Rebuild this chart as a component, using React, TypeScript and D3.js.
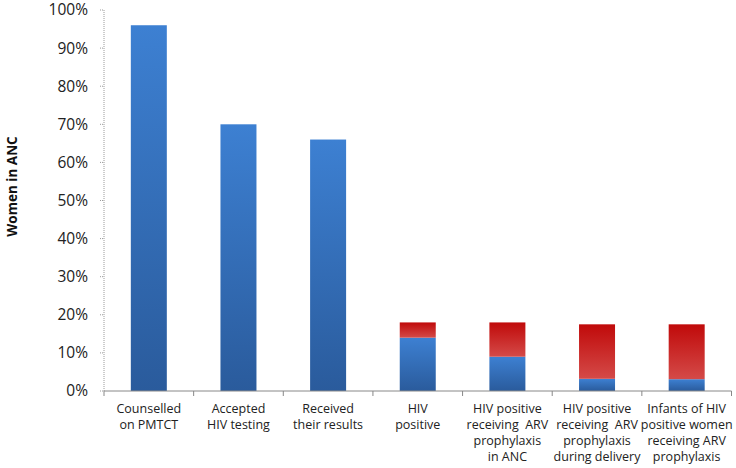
import React from "react";
import * as d3 from "d3";

const categories: string[][] = [
  ["Counselled", "on PMTCT"],
  ["Accepted", "HIV testing"],
  ["Received", "their results"],
  ["HIV", "positive"],
  ["HIV positive", "receiving  ARV", "prophylaxis", "in ANC"],
  ["HIV positive", "receiving  ARV", "prophylaxis", "during delivery"],
  ["Infants of HIV", "positive women", "receiving ARV", "prophylaxis"],
];
const blueValues = [96, 70, 66, 14, 9, 3.2, 3.1];
const redValues = [0, 0, 0, 4, 9, 14.3, 14.4];
const yTicks = [0, 10, 20, 30, 40, 50, 60, 70, 80, 90, 100];

const W = 736;
const H = 468;
const left = 104;
const right = 731.5;
const top = 10;
const bottom = 391;
const font = "'Open Sans', 'Liberation Sans', sans-serif";

export default function App() {
  const keys = categories.map((_, i) => String(i));
  const band = (right - left) / keys.length;
  const y = d3.scaleLinear().domain([0, 100]).range([bottom, top]);
  const bw = 36;

  return (
    <svg width={W} height={H} style={{ position: "absolute", left: 0, top: 0 }}>
      <defs>
        <linearGradient id="blueG" x1="0" y1="0" x2="0" y2="1">
          <stop offset="0%" stopColor="#3d80d2" />
          <stop offset="100%" stopColor="#2a5b9c" />
        </linearGradient>
        <linearGradient id="redG" x1="0" y1="0" x2="0" y2="1">
          <stop offset="0%" stopColor="#c00a0a" />
          <stop offset="100%" stopColor="#d44a48" />
        </linearGradient>
      </defs>
      <rect width={W} height={H} fill="#ffffff" />
      {/* y axis */}
      <line x1={left} x2={left} y1={top} y2={bottom} stroke="#9a9a9a" strokeDasharray="1,1" />
      {yTicks.map((t) => (
        <g key={t}>
          <line x1={left - 4} x2={left} y1={y(t)} y2={y(t)} stroke="#9a9a9a" strokeDasharray="1,1" />
          <text x={left - 16} y={y(t)} dy="0.35em" textAnchor="end" fontFamily={font} fontSize={15.5} fill="#222">
            {t}%
          </text>
        </g>
      ))}
      <text
        transform={`translate(17,${(top + bottom) / 2 - 14}) rotate(-90)`}
        textAnchor="middle"
        fontFamily={font}
        fontWeight="bold"
        fontSize={13.5}
        fill="#111"
      >
        Women in ANC
      </text>
      {/* bars */}
      {keys.map((k, i) => {
        const cx = left + band * (i + 0.5);
        const x0 = cx - bw / 2;
        const b = blueValues[i];
        const r = redValues[i];
        return (
          <g key={k}>
            <rect x={x0} y={y(b)} width={bw} height={y(0) - y(b)} fill="url(#blueG)" />
            {r > 0 && <rect x={x0} y={y(b + r)} width={bw} height={y(b) - y(b + r)} fill="url(#redG)" />}
          </g>
        );
      })}
      {/* x axis */}
      <line x1={left} x2={right} y1={bottom} y2={bottom} stroke="#888" />
      {d3.range(keys.length + 1).map((i) => (
        <line key={i} x1={left + band * i} x2={left + band * i} y1={bottom} y2={bottom + 5} stroke="#888" />
      ))}
      {categories.map((lines, i) => (
        <text key={i} x={left + band * (i + 0.5)} y={413} textAnchor="middle" fontFamily={font} fontSize={12.5} fill="#222">
          {lines.map((l, j) => (
            <tspan key={j} x={left + band * (i + 0.5)} dy={j === 0 ? 0 : 16} style={{ whiteSpace: "pre" }}>
              {l}
            </tspan>
          ))}
        </text>
      ))}
    </svg>
  );
}
